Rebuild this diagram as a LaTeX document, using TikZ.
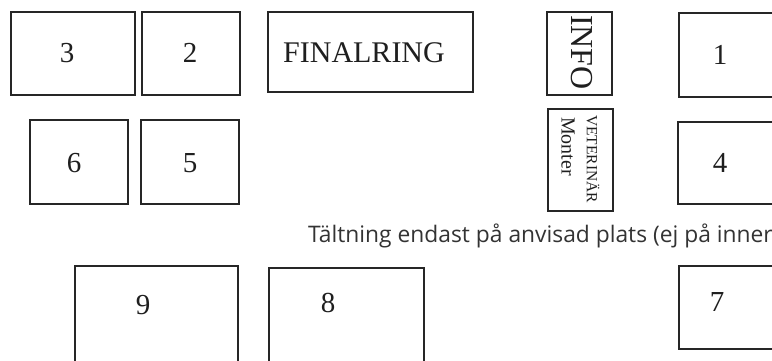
\documentclass[tikz,border=0pt]{standalone}
\usepackage{fontspec}
\setmainfont{Liberation Serif}
\newfontfamily\notefont{Open Sans}
\begin{document}
\begin{tikzpicture}[x=1pt,y=-1pt,
  boxst/.style={draw=black!85, line width=1.7pt, inner sep=0pt, fill=white},
  numst/.style={inner sep=0pt, text=black!88, font=\fontsize{29}{29}\selectfont},
  notest/.style={inner sep=0pt, text=black!80, font=\notefont\fontsize{22.8}{26}\selectfont}]
\useasboundingbox (0,0) rectangle (772,360);
\clip (0,0) rectangle (772,360);
% boxes
\node[boxst, minimum width=124pt, minimum height=83pt] (b3) at (73,53.5) {};
\node[boxst, minimum width=98pt, minimum height=83pt] (b2) at (191,53.5) {};
\node[boxst, minimum width=205pt, minimum height=80pt] (bF) at (370.5,52) {};
\node[boxst, minimum width=65pt, minimum height=83pt] (bI) at (579.5,53.5) {};
\node[boxst, minimum width=65pt, minimum height=102pt] (bV) at (580.5,160) {};
\node[boxst, minimum width=111pt, minimum height=84pt] (b1) at (734.5,55) {};
\node[boxst, minimum width=98pt, minimum height=84pt] (b6) at (79,162) {};
\node[boxst, minimum width=98pt, minimum height=84pt] (b5) at (190,162) {};
\node[boxst, minimum width=112pt, minimum height=82pt] (b4) at (734,163) {};
\node[boxst, minimum width=163pt, minimum height=114pt] (b9) at (156.5,323) {};
\node[boxst, minimum width=155pt, minimum height=112pt] (b8) at (346.5,324) {};
\node[boxst, minimum width=111pt, minimum height=83pt] (b7) at (734.5,307.5) {};
% labels
\node[numst] (t3) at (67,53) {3};
\node[numst] (t2) at (190,53) {2};
\node[numst] (t6) at (74,163) {6};
\node[numst] (t5) at (190,163) {5};
\node[numst] (t1) at (720,55) {1};
\node[numst] (t4) at (720,163) {4};
\node[numst] (t9) at (143,305) {9};
\node[numst] (t8) at (328,303) {8};
\node[numst] (t7) at (717,302) {7};
\node[numst, font=\fontsize{30}{30}\selectfont] (tF) at (364,53) {FINALRING};
\node[numst, font=\fontsize{32}{32}\selectfont, rotate=-90] (tI) at (582,52.5) {INFO};
\node[numst, font=\fontsize{15.5}{15.5}\selectfont, rotate=-90, anchor=west] (tV) at (593,115) {VETERINÄR};
\node[numst, font=\fontsize{20}{20}\selectfont, rotate=-90, anchor=west] (tM) at (568,117) {Monter};
\node[notest, anchor=base west] (note) at (308,242) {Tältning endast på anvisad plats (ej på inner};
\end{tikzpicture}
\end{document}
